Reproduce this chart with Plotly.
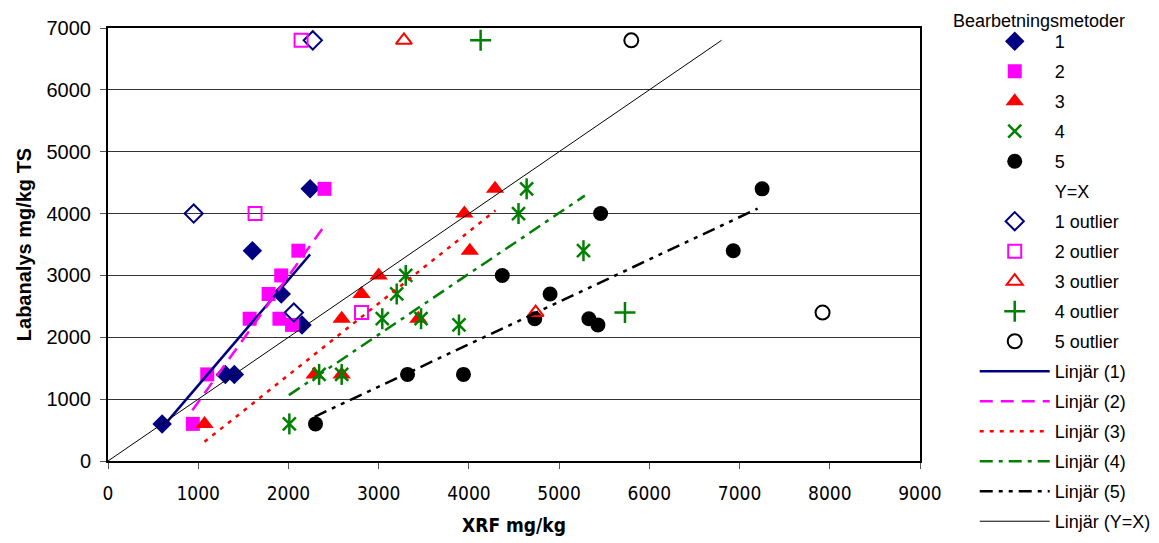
import plotly.graph_objects as go

# ---- data ----
x1 = [600, 1300, 1400, 1600, 1920, 2150, 2240]
y1 = [600, 1400, 1400, 3400, 2700, 2200, 4400]
x2 = [940, 1100, 1570, 1780, 1920, 1900, 2040, 2110, 2400]
y2 = [600, 1400, 2300, 2700, 3000, 2300, 2200, 3400, 4400]
x3 = [1070, 2290, 2590, 2590, 2810, 3000, 3440, 3950, 4010, 4290]
y3 = [600, 1400, 1400, 2300, 2700, 3000, 2300, 4000, 3400, 4400]
x4 = [2010, 2340, 2590, 3040, 3200, 3300, 3470, 3890, 4550, 4640, 5270]
y4 = [600, 1400, 1400, 2300, 2700, 3000, 2300, 2200, 4000, 4400, 3400]
x5 = [2300, 3320, 3940, 4370, 4730, 4900, 5330, 5430, 5460, 6930, 7250]
y5 = [600, 1400, 1400, 3000, 2300, 2700, 2300, 2200, 4000, 3400, 4400]

x1o = [950, 2060, 2270]
y1o = [4000, 2400, 6800]
x2o = [1630, 2140, 2810]
y2o = [4000, 6800, 2400]
x3o = [3280, 4740]
y3o = [6800, 2400]
x4o = [4130, 5730]
y4o = [6800, 2400]
x5o = [5800, 7920]
y5o = [6800, 2400]

# Y = X reference
xyx = [0, 6800]
yyx = [0, 6800]

# trendline end points
tx1, ty1 = [600, 2240], [540, 3340]
tx2, ty2 = [935, 2420], [820, 3845]
tx3, ty3 = [1070, 4295], [310, 4050]
tx4, ty4 = [2005, 5285], [1065, 4290]
tx5, ty5 = [2290, 7200], [715, 4080]

NAVY = "#000080"
MAG = "#FF00FF"
RED = "#FF0000"
GRN = "#008000"
BLK = "#000000"

fig = go.Figure()
g = [0]


def add(tr):
    g[0] += 1
    if tr.legendgroup is None:
        tr.legendgroup = "g%d" % g[0]
    fig.add_trace(tr)


add(go.Scatter(x=x1, y=y1, mode="markers", name="1",
               marker=dict(symbol="diamond", size=15, color=NAVY)))
add(go.Scatter(x=x2, y=y2, mode="markers", name="2",
               marker=dict(symbol="square", size=14, color=MAG)))
add(go.Scatter(x=x3, y=y3, mode="markers", name="3",
               marker=dict(symbol="triangle-up", size=16, color=RED)))
add(go.Scatter(x=x4, y=y4, mode="markers", name="4", legendgroup="ast",
               marker=dict(symbol="x-thin-open", size=13, color=GRN,
                           line=dict(color=GRN, width=2.5))))
fig.add_trace(go.Scatter(x=x4, y=y4, mode="markers", name="4", legendgroup="ast",
                         showlegend=False,
                         marker=dict(symbol="line-ns-open", size=15, color=GRN,
                                     line=dict(color=GRN, width=2.5))))
add(go.Scatter(x=x5, y=y5, mode="markers", name="5",
               marker=dict(symbol="circle", size=15, color=BLK)))
add(go.Scatter(x=xyx, y=yyx, mode="markers", name="Y=X",
               marker=dict(symbol="circle", size=1, color="rgba(0,0,0,0)")))
add(go.Scatter(x=x1o, y=y1o, mode="markers", name="1 outlier",
               marker=dict(symbol="diamond-open", size=14, color=NAVY,
                           line=dict(color=NAVY, width=2))))
add(go.Scatter(x=x2o, y=y2o, mode="markers", name="2 outlier",
               marker=dict(symbol="square-open", size=13, color=MAG,
                           line=dict(color=MAG, width=2))))
add(go.Scatter(x=x3o, y=y3o, mode="markers", name="3 outlier",
               marker=dict(symbol="triangle-up-open", size=14, color=RED,
                           line=dict(color=RED, width=2))))
add(go.Scatter(x=x4o, y=y4o, mode="markers", name="4 outlier",
               marker=dict(symbol="cross-thin-open", size=15, color=GRN,
                           line=dict(color=GRN, width=2.5))))
add(go.Scatter(x=x5o, y=y5o, mode="markers", name="5 outlier",
               marker=dict(symbol="circle-open", size=14, color=BLK,
                           line=dict(color=BLK, width=2))))
add(go.Scatter(x=tx1, y=ty1, mode="lines", name="Linjär (1)",
               line=dict(color=NAVY, width=2.5)))
add(go.Scatter(x=tx2, y=ty2, mode="lines", name="Linjär (2)",
               line=dict(color=MAG, width=2.5, dash="13px,8px")))
add(go.Scatter(x=tx3, y=ty3, mode="lines", name="Linjär (3)",
               line=dict(color=RED, width=2.5, dash="4px,6px")))
add(go.Scatter(x=tx4, y=ty4, mode="lines", name="Linjär (4)",
               line=dict(color=GRN, width=2.5, dash="13px,6px,4px,6px")))
add(go.Scatter(x=tx5, y=ty5, mode="lines", name="Linjär (5)",
               line=dict(color=BLK, width=2.5, dash="13px,6px,4px,6px,4px,6px")))
add(go.Scatter(x=xyx, y=yyx, mode="lines", name="Linjär (Y=X)",
               line=dict(color=BLK, width=1)))

FONT = "Liberation Sans, Arial, sans-serif"
NARROW = "Liberation Sans Narrow, Arial Narrow, DejaVu Sans Condensed, sans-serif"

fig.update_layout(
    width=1159, height=543,
    margin=dict(l=108, r=239, t=28, b=82, autoexpand=False),
    paper_bgcolor="white", plot_bgcolor="white",
    font=dict(family=FONT, size=18, color="black"),
    xaxis=dict(range=[0, 9000], dtick=1000, tick0=0, showgrid=False,
               zeroline=False, showline=True, linecolor="black", linewidth=2,
               mirror=True, ticks="outside", ticklen=6, tickcolor="#555",
               ticklabelstandoff=8,
               tickfont=dict(size=19, family=NARROW),
               title=dict(text="<b>XRF mg/kg</b>", font=dict(size=19, family=NARROW),
                          standoff=16)),
    yaxis=dict(range=[0, 7000], dtick=1000, tick0=0, showgrid=True,
               gridcolor="#333", gridwidth=1, zeroline=False, showline=True,
               linecolor="black", linewidth=2, mirror=True, ticks="outside",
               ticklen=6, tickcolor="#555", ticklabelstandoff=5,
               tickfont=dict(size=20),
               title=dict(text="<b>Labanalys mg/kg TS</b>", font=dict(size=20),
                          standoff=10)),
    legend=dict(xref="container", yref="container", x=0.841, xanchor="left",
                y=0.9576, yanchor="top",
                traceorder="grouped", tracegroupgap=3.6, maxheight=700,
                font=dict(size=18), bgcolor="rgba(0,0,0,0)", itemwidth=70),
    annotations=[dict(text="Bearbetningsmetoder", xref="paper", yref="paper",
                      x=(951 - 108) / 812, y=1.016, xanchor="left", yanchor="middle",
                      showarrow=False, font=dict(size=18))],
)

fig.write_html("out.html")
